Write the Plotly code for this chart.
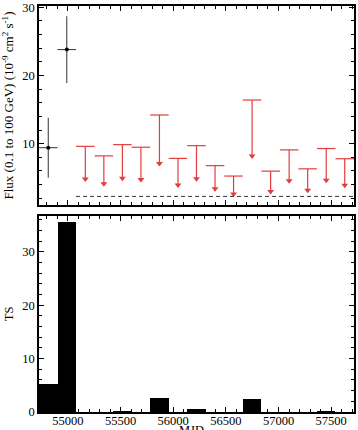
import numpy as np
import plotly.graph_objects as go

# ---- data ----
bin_start = 54725
bin_width = 176
n_bins = 17

det_bins = [0, 1]
det_flux = [9.4, 23.8]
det_err = [4.4, 4.9]

ul_bins = list(range(2, 17))
ul_flux = [9.6, 8.2, 9.85, 9.47, 14.2, 7.83, 9.7, 6.77, 5.24, 16.4, 5.96, 9.08, 6.3, 9.28, 7.78]

ts_values = [5.3, 35.5, 0, 0, 0.3, 0, 2.6, 0, 0.6, 0, 0, 2.5, 0, 0, 0, 0.3, 0]

dashed_level = 2.25
dashed_from_bin = 2

x_ticks = [55000, 55500, 56000, 56500, 57000, 57500]
x_ticklabels = ["55000", "55500", "56000", "56500", "57000", "57500"]

# ---- derived ----
edges = bin_start + bin_width * np.arange(n_bins + 1)
centers = (edges[:-1] + edges[1:]) / 2
det_x = centers[det_bins]
ul_x = centers[ul_bins]
ul_arr = np.array(ul_flux)

RED = "rgb(228,60,60)"
DARK = "#333333"

fig = go.Figure()

fig.add_trace(go.Scatter(
    x=det_x, y=det_flux, mode="markers",
    marker=dict(color="black", size=4),
    error_y=dict(type="data", array=det_err, width=0, thickness=1, color=DARK),
    error_x=dict(type="data", array=[bin_width / 2] * len(det_x), width=0, thickness=1, color=DARK),
    xaxis="x", yaxis="y", showlegend=False))

fig.add_trace(go.Scatter(
    x=ul_x, y=ul_arr, mode="markers",
    marker=dict(color=RED, size=1, opacity=0),
    error_y=dict(type="data", symmetric=False, array=[0] * len(ul_x), arrayminus=ul_arr / 2,
                 width=0, thickness=1.2, color=RED),
    error_x=dict(type="data", array=[bin_width / 2] * len(ul_x), width=0, thickness=1.2, color=RED),
    xaxis="x", yaxis="y", showlegend=False))

fig.add_trace(go.Scatter(
    x=ul_x, y=ul_arr / 2, mode="markers",
    marker=dict(color=RED, size=6, symbol="triangle-down"),
    xaxis="x", yaxis="y", showlegend=False))

fig.add_trace(go.Scatter(
    x=[edges[dashed_from_bin], edges[-1]], y=[dashed_level, dashed_level], mode="lines",
    line=dict(color=DARK, width=1, dash="4px,3px"),
    xaxis="x", yaxis="y", showlegend=False))

fig.add_trace(go.Bar(
    x=centers, y=ts_values, width=bin_width,
    marker=dict(color="black", line=dict(width=0)),
    xaxis="x2", yaxis="y2", showlegend=False))

common_x = dict(
    range=[edges[0], edges[-1]], tickmode="array", tickvals=x_ticks, ticktext=x_ticklabels,
    ticks="inside", ticklen=5, tickcolor="black", tickwidth=1,
    minor=dict(dtick=100, tick0=55000, ticks="inside", ticklen=3, tickcolor="black"),
    mirror="allticks", showline=True, linecolor="black", linewidth=1.5,
    showgrid=False, zeroline=False, automargin=False,
)
common_y = dict(
    ticks="inside", ticklen=5, tickcolor="black", tickwidth=1,
    tick0=0, dtick=10,
    minor=dict(dtick=2, ticks="inside", ticklen=3, tickcolor="black"),
    mirror="allticks", showline=True, linecolor="black", linewidth=1.5,
    showgrid=False, zeroline=False, automargin=False,
)

fig.update_layout(
    width=358, height=430,
    margin=dict(l=39, r=4, t=6, b=18),
    plot_bgcolor="white", paper_bgcolor="white",
    font=dict(family="Liberation Serif", size=12.5, color="black"),
    bargap=0,
    xaxis=dict(domain=[0, 1], anchor="y", showticklabels=False, **common_x),
    yaxis=dict(domain=[0.51, 1], anchor="x", range=[1, 30.2],
               title=dict(text="Flux (0.1 to 100 GeV) (10<sup>-9</sup> cm<sup>2</sup> s<sup>-1</sup>)",
                          font=dict(size=13), standoff=6),
               **common_y),
    xaxis2=dict(domain=[0, 1], anchor="y2", ticklabelstandoff=-4, **common_x),
    yaxis2=dict(domain=[0, 0.483], anchor="x2", range=[0, 36.7],
                title=dict(text="TS", font=dict(size=12.5), standoff=6),
                **common_y),
    annotations=[dict(text="MJD", xref="paper", yref="paper", x=0.483, y=-0.022,
                      xanchor="center", yanchor="top", showarrow=False,
                      font=dict(size=12.5))],
)

fig.write_html("out.html")
